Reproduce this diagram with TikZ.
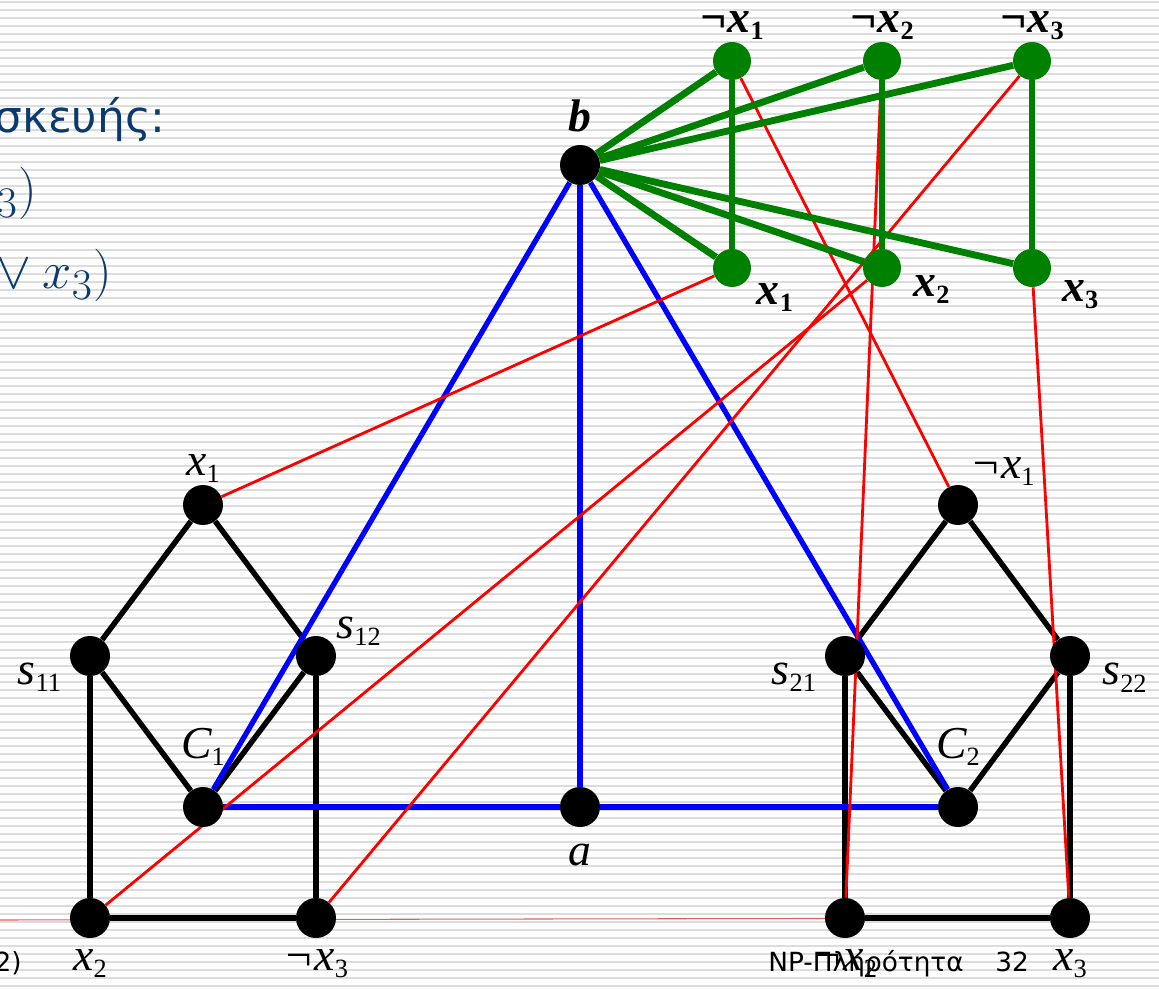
\documentclass[tikz,border=0pt]{standalone}
\usepackage[no-math]{fontspec}
\setmainfont{Liberation Serif}
\newfontfamily\slidefont{DejaVu Sans}
\usepackage{xcolor}
\usepackage{tikz}
\definecolor{slideblue}{HTML}{0B3B6E}
\definecolor{stripe}{HTML}{DCDCDC}
\definecolor{litgreen}{HTML}{008000}
\definecolor{footred}{HTML}{E06060}
\newcommand{\subs}[1]{\raisebox{-4pt}{\fontsize{15}{15}\selectfont\upshape #1}}
\pgfdeclarelayer{bg}
\pgfsetlayers{bg,main}
\tikzset{
  vtx/.style={circle,fill=black,inner sep=0pt,minimum size=8mm},
  lit/.style={circle,fill=litgreen,inner sep=0pt,minimum size=7.6mm},
  every label/.style={font=\fontsize{26}{30}\selectfont\itshape,inner sep=1pt},
  blab/.style={font=\fontsize{26}{30}\selectfont\bfseries\itshape},
  slide/.style={text=slideblue,inner sep=0pt},
  clause/.style={slide,font=\fontsize{24.88}{30}\selectfont},
  foot/.style={font=\slidefont\fontsize{15}{18}\selectfont,inner sep=0pt},
  gad/.style={line width=3.1pt},
  spine/.style={line width=3pt,blue},
  tie/.style={line width=3.9pt,litgreen},
  wire/.style={line width=1.6pt,red},
}

\begin{document}
\begin{tikzpicture}[x=0.02cm,y=-0.02cm]
\useasboundingbox (0,0) rectangle (1159,989);

% slide text
\node[slide,anchor=base east,font=\slidefont\fontsize{25}{30}\selectfont] (title) at (166,133) {σκευής:};
\node[clause,anchor=base east] (cl1) at (37,207) {\scalebox{1.2}{${}_3\bigr)$}};
\node[clause,anchor=base east] (cl2) at (112,289) {\scalebox{1.2}{${}\vee x_3\bigr)$}};
\node[foot,anchor=base east] (prev) at (22,971) {2)};
\node[foot,anchor=base west] (topic) at (768,971) {NP-Πληρότητα};
\node[foot,anchor=base west] (page) at (995,971) {32};

% variables
\node[vtx,label={[blab,label distance=6pt]above:b}] (b) at (580,165) {};
\node[lit,label={[blab]above:¬x\subs{1}}] (nx1) at (732,61) {};
\node[lit,label={[blab]above:¬x\subs{2}}] (nx2) at (882,61) {};
\node[lit,label={[blab]above:¬x\subs{3}}] (nx3) at (1032,61) {};
\node[lit,label={[blab,label distance=4pt]-30:x\subs{1}}] (px1) at (732,268) {};
\node[lit,label={[blab,label distance=6pt]-10:x\subs{2}}] (px2) at (882,268) {};
\node[lit,label={[blab,label distance=6pt]-20:x\subs{3}}] (px3) at (1032,268) {};

% clause 1
\node[vtx,label={above:x\subs{1}}] (c1x1) at (203,505) {};
\node[vtx,label={[label distance=4pt]190:s\subs{11}}] (c1s1) at (90,656) {};
\node[vtx,label={25:s\subs{12}}] (c1s2) at (316,656) {};
\node[vtx,label={[label distance=11pt]above:C\subs{1}}] (c1) at (203,807) {};
\node[vtx,label={[label distance=5pt]below:x\subs{2}}] (c1x2) at (90,918) {};
\node[vtx,label={[label distance=5pt]below:¬x\subs{3}}] (c1nx3) at (316,918) {};

% clause 2
\node[vtx,label={60:¬x\subs{1}}] (c2nx1) at (958,505) {};
\node[vtx,label={[label distance=4pt]190:s\subs{21}}] (c2s1) at (845,656) {};
\node[vtx,label={[label distance=6pt]-10:s\subs{22}}] (c2s2) at (1070,656) {};
\node[vtx,label={[label distance=11pt]above:C\subs{2}}] (c2) at (958,807) {};
\node[vtx,label={[label distance=5pt]below:¬x\subs{2}}] (c2nx2) at (845,918) {};
\node[vtx,label={[label distance=5pt]below:x\subs{3}}] (c2x3) at (1070,918) {};

% apex
\node[vtx,label={[label distance=8pt]below:a}] (a) at (580,807) {};

\begin{pgfonlayer}{bg}
% background stripes
\fill[white] (0,0) rectangle (1159,989);
\foreach \k in {0,...,123}
  \draw[stripe,line width=1.13pt] (0,1.8+8*\k) -- (1159,1.8+8*\k);
\draw[footred,line width=0.6pt] (0,920) -- (c2x3);

% gadgets
\draw[gad] (c1x1) -- (c1s1) -- (c1) -- (c1s2) -- (c1x1);
\draw[gad] (c1s1) -- (c1x2) -- (c1nx3) -- (c1s2);
\draw[gad] (c2nx1) -- (c2s1) -- (c2) -- (c2s2) -- (c2nx1);
\draw[gad] (c2s1) -- (c2nx2) -- (c2x3) -- (c2s2);

% b and a
\draw[spine] (c1) -- (b) -- (c2);
\draw[spine] (b) -- (a);
\draw[spine] (c1) -- (a) -- (c2);

% literal to clause
\draw[wire] (px1) -- (c1x1);
\draw[wire] (px2) -- (c1x2);
\draw[wire] (nx3) -- (c1nx3);
\draw[wire] (nx1) -- (c2nx1);
\draw[wire] (nx2) -- (c2nx2);
\draw[wire] (px3) -- (c2x3);

% variable ties
\draw[tie] (b) -- (nx1);
\draw[tie] (b) -- (nx2);
\draw[tie] (b) -- (nx3);
\draw[tie] (b) -- (px1);
\draw[tie] (b) -- (px2);
\draw[tie] (b) -- (px3);
\draw[tie] (nx1) -- (px1);
\draw[tie] (nx2) -- (px2);
\draw[tie] (nx3) -- (px3);
\end{pgfonlayer}

\end{tikzpicture}
\end{document}
